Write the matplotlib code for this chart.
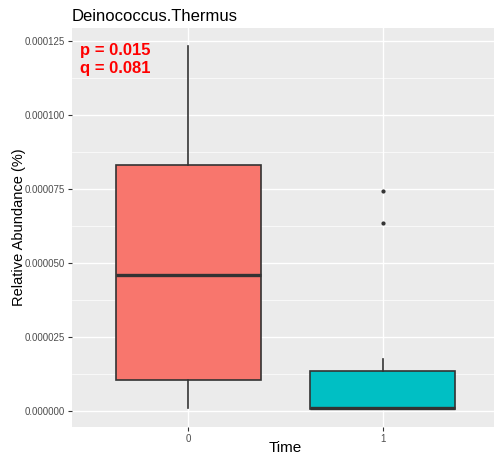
import matplotlib
matplotlib.use("Agg")
import matplotlib.pyplot as plt
from matplotlib.ticker import MultipleLocator, FuncFormatter

plt.rcParams['font.family'] = ['Liberation Sans', 'DejaVu Sans']

# Data
groups = ["0", "1"]
q1 = [1.05e-5, 0.8e-6]
med = [4.59e-5, 0.9e-6]
q3 = [8.31e-5, 1.36e-5]
whislo = [1.0e-6, 0.8e-6]
whishi = [1.233e-4, 1.76e-5]
outliers = [[], [6.35e-5, 7.43e-5]]
colors = ["#F8766D", "#00BFC4"]
title = "Deinococcus.Thermus"
p_text = "p = 0.015"
q_text = "q = 0.081"

stats = []
for i, g in enumerate(groups):
    stats.append(dict(label=g, q1=q1[i], med=med[i], q3=q3[i],
                      whislo=whislo[i], whishi=whishi[i], fliers=outliers[i]))

W, H = 494, 461
left, right, top, bottom = 72, 499, 28, 427
fig = plt.figure(figsize=(W / 100, H / 100), dpi=100)
ax = fig.add_axes([left / W, (H - bottom) / H, (right - left) / W, (bottom - top) / H])
ax.set_facecolor("#EBEBEB")
for s in ax.spines.values():
    s.set_visible(False)

ax.set_ylim(-5.4e-6, 1.294e-4)
ax.set_xlim(-0.6, 1.6)
ax.yaxis.set_major_locator(MultipleLocator(2.5e-5))
ax.yaxis.set_minor_locator(MultipleLocator(1.25e-5))
ax.yaxis.set_major_formatter(FuncFormatter(lambda v, p: f"{v:.6f}"))
ax.grid(which="major", color="white", linewidth=1.0)
ax.grid(which="minor", axis="y", color="white", linewidth=0.5)
ax.set_axisbelow(True)

edge = "#333333"
bp = ax.bxp(stats, positions=list(range(len(groups))), widths=0.75, patch_artist=True,
            showcaps=False,
            boxprops=dict(edgecolor=edge, linewidth=1.2),
            whiskerprops=dict(color=edge, linewidth=1.2),
            medianprops=dict(color=edge, linewidth=2.4),
            flierprops=dict(marker='o', markersize=2, markerfacecolor=edge,
                            markeredgecolor=edge, linestyle='none'))
for patch, c in zip(bp['boxes'], colors):
    patch.set_facecolor(c)

ax.set_xticks(range(len(groups)))
ax.set_xticklabels(groups)
ax.tick_params(axis='both', which='major', length=3, color="#333333",
               labelcolor="#4D4D4D", labelsize=7, width=0.8, pad=2)
ax.tick_params(axis='y', which='minor', length=0)

ph = bottom - top
pw = right - left
ax.set_xlabel("Time", fontsize=11, color="black")
ax.xaxis.set_label_coords((285 - left) / pw, -(441 - bottom) / ph)
ax.set_ylabel("Relative Abundance (%)", fontsize=10.5, color="black")
ax.yaxis.set_label_coords(-(left - 26) / pw, 0.5)
ax.set_title(title, fontsize=12, loc="left", pad=5, color="black")

ax.text(0.018, (bottom - 50) / ph, p_text, transform=ax.transAxes, color="red", fontsize=12,
        fontweight="bold", va="center", ha="left")
ax.text(0.018, (bottom - 68) / ph, q_text, transform=ax.transAxes, color="red", fontsize=12,
        fontweight="bold", va="center", ha="left")

fig.savefig("out.png", dpi=100)
